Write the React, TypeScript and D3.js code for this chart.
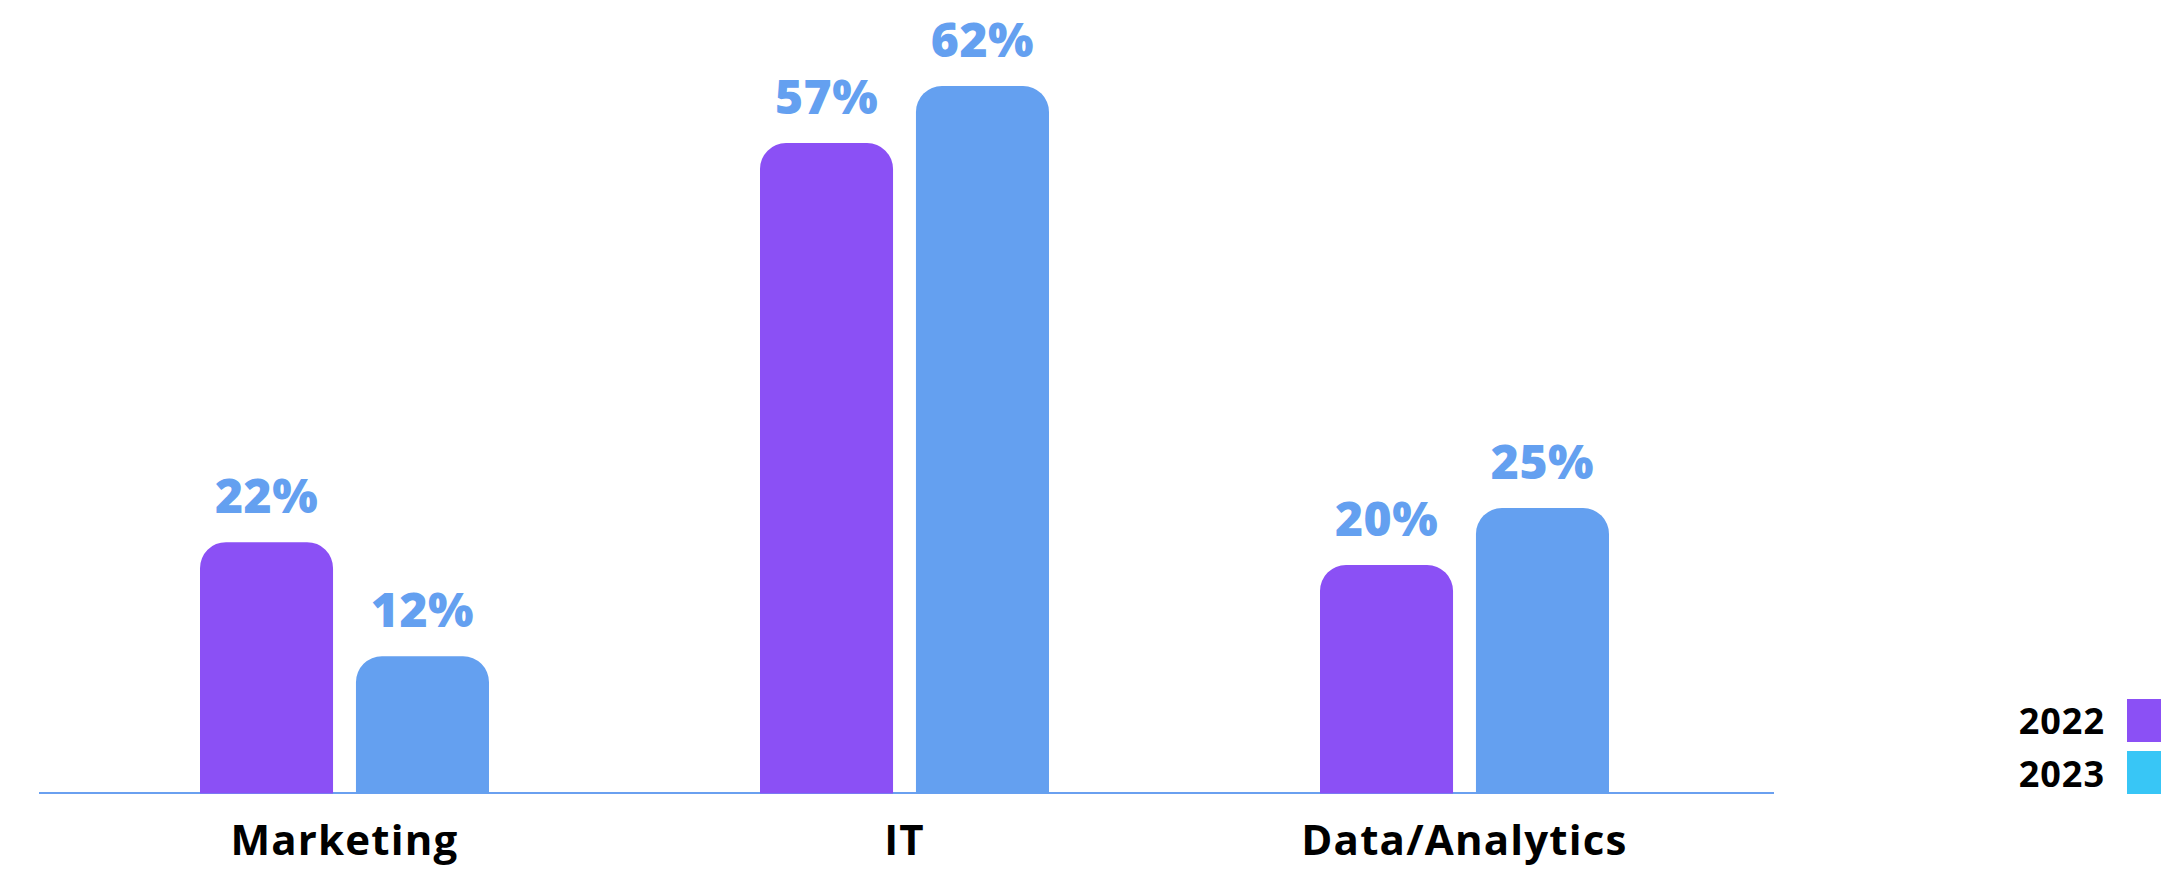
import React from "react";
import * as d3 from "d3";

const categories = ["Marketing", "IT", "Data/Analytics"];
const seriesNames = ["2022", "2023"];
const values2022 = [22, 57, 20];
const values2023 = [12, 62, 25];

const W = 2161;
const H = 869;
const BASE = 793;
const BAR_COLOR = ["#8B50F5", "#64A0F0"];
const LEGEND_COLOR = ["#8B50F5", "#38C6F6"];
const LABEL_COLOR = "#64A0F0";
const FONT = "'Open Sans', 'Noto Sans', sans-serif";

function topRoundedRect(x: number, y: number, w: number, h: number, r: number) {
  const p = d3.path();
  const rr = Math.min(r, w / 2, h);
  p.moveTo(x, y + h);
  p.lineTo(x, y + rr);
  p.arcTo(x, y, x + rr, y, rr);
  p.lineTo(x + w - rr, y);
  p.arcTo(x + w, y, x + w, y + rr, rr);
  p.lineTo(x + w, y + h);
  p.closePath();
  return p.toString();
}

export default function App() {
  const x0 = d3.scaleBand<string>().domain(categories).range([64.5, 1744.5]).padding(0);
  const x1 = d3
    .scaleBand<string>()
    .domain(seriesNames)
    .range([-144.5, 144.5])
    .paddingInner(0.147)
    .paddingOuter(0);
  const y = d3.scaleLinear().domain([0, 62]).range([BASE, 86]);

  const rows = categories.map((c, i) => ({
    category: c,
    vals: [values2022[i], values2023[i]],
  }));

  return (
    <svg
      width={W}
      height={H}
      style={{ position: "absolute", left: 0, top: 0, display: "block", background: "#fff" }}
    >
      <line x1={39} x2={1774} y1={BASE} y2={BASE} stroke="#6AA0F0" strokeWidth={2} />
      {rows.map((row) => {
        const cx = (x0(row.category) ?? 0) + x0.bandwidth() / 2;
        return (
          <g key={row.category}>
            {row.vals.map((v, si) => {
              const bx = cx + (x1(seriesNames[si]) ?? 0);
              const bw = x1.bandwidth();
              const top = y(v);
              return (
                <g key={si}>
                  <path d={topRoundedRect(bx, top, bw, BASE + 0.5 - top, 26)} fill={BAR_COLOR[si]} />
                  <text
                    x={bx + bw / 2}
                    y={top - 29}
                    textAnchor="middle"
                    fontFamily={FONT}
                    fontWeight={800}
                    fontSize={48}
                    letterSpacing={0.5}
                    fill={LABEL_COLOR}
                  >
                    {v}%
                  </text>
                </g>
              );
            })}
            <text
              x={cx}
              y={855}
              textAnchor="middle"
              fontFamily={FONT}
              fontWeight={700}
              fontSize={42}
              letterSpacing={1.2}
              fill="#000"
            >
              {row.category}
            </text>
          </g>
        );
      })}
      {seriesNames.map((s, i) => (
        <g key={s}>
          <text
            x={2105}
            y={734 + i * 53}
            textAnchor="end"
            fontFamily={FONT}
            fontWeight={700}
            fontSize={36}
            letterSpacing={1}
            fill="#000"
          >
            {s}
          </text>
          <rect x={2127} y={699 + i * 52} width={43} height={43} fill={LEGEND_COLOR[i]} />
        </g>
      ))}
    </svg>
  );
}
